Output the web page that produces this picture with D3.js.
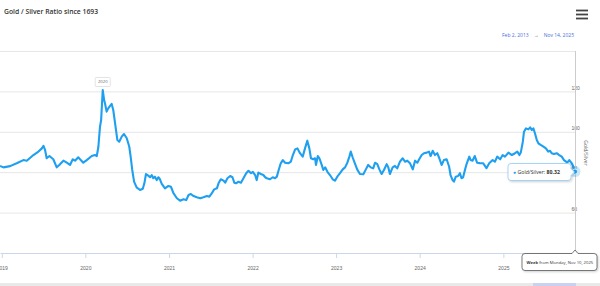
<!DOCTYPE html>
<html>
<head>
<meta charset="utf-8">
<script src="https://cdn.jsdelivr.net/npm/d3@7"></script>
<style>
	body { margin: 0; background: #fff; }
	svg { display: block; font-family: 'Open Sans', 'Noto Sans', sans-serif; }
	.grid line { stroke: #e6e6e6; }
	.grid path { display: none; }
	.x-axis path, .x-axis line { stroke: #ccd6eb; }
	.x-axis text { fill: #666; font-size: 5px; }
	.y-labels text { fill: #666; font-size: 5px; }
	.y-labels path { display: none; }
</style>
</head>
<body>
<div id="chart"></div>
<script>
// weekly gold/silver ratio
var dates = [
	'2018-12-24', '2019-01-08', '2019-02-06', '2019-03-07', '2019-04-05', '2019-04-20', '2019-05-19',
	'2019-06-10', '2019-06-25', '2019-07-02', '2019-07-09', '2019-07-16', '2019-07-28', '2019-08-14',
	'2019-08-29', '2019-09-09', '2019-09-27', '2019-10-12', '2019-10-26', '2019-11-07', '2019-11-17',
	'2019-12-01', '2019-12-12', '2019-12-23', '2020-01-07', '2020-01-29', '2020-02-12', '2020-02-20',
	'2020-02-27', '2020-03-05', '2020-03-10', '2020-03-17', '2020-03-23', '2020-03-27', '2020-04-03',
	'2020-04-10', '2020-04-18', '2020-04-25', '2020-05-02', '2020-05-10', '2020-05-20', '2020-05-28',
	'2020-06-08', '2020-06-18', '2020-06-30', '2020-07-11', '2020-07-17', '2020-07-24', '2020-08-01',
	'2020-08-12', '2020-08-27', '2020-09-08', '2020-09-15', '2020-09-22', '2020-10-02', '2020-10-10',
	'2020-10-17', '2020-10-24', '2020-10-31', '2020-11-08', '2020-11-15', '2020-11-22', '2020-11-30',
	'2020-12-14', '2020-12-29', '2021-01-09', '2021-01-20', '2021-02-04', '2021-02-18', '2021-03-05',
	'2021-03-17', '2021-03-27', '2021-04-06', '2021-04-18', '2021-05-02', '2021-05-17', '2021-05-31',
	'2021-06-15', '2021-06-26', '2021-07-07', '2021-07-17', '2021-07-29', '2021-08-05', '2021-08-15',
	'2021-08-27', '2021-09-03', '2021-09-13', '2021-09-25', '2021-10-05', '2021-10-13', '2021-10-21',
	'2021-10-31', '2021-11-11', '2021-11-22', '2021-12-04', '2021-12-14', '2021-12-25', '2022-01-02',
	'2022-01-12', '2022-01-19', '2022-01-26', '2022-02-06', '2022-02-17', '2022-02-25', '2022-03-04',
	'2022-03-18', '2022-03-30', '2022-04-09', '2022-04-17', '2022-04-24', '2022-05-04', '2022-05-13',
	'2022-05-23', '2022-06-06', '2022-06-17', '2022-06-26', '2022-07-06', '2022-07-16', '2022-07-27',
	'2022-08-08', '2022-08-18', '2022-08-28', '2022-09-06', '2022-09-13', '2022-09-23', '2022-10-01',
	'2022-10-05', '2022-10-13', '2022-10-20', '2022-10-30', '2022-11-06', '2022-11-14', '2022-11-24',
	'2022-12-05', '2022-12-17', '2022-12-27', '2023-01-06', '2023-01-18', '2023-01-30', '2023-02-09',
	'2023-02-19', '2023-02-28', '2023-03-06', '2023-03-14', '2023-03-24', '2023-04-03', '2023-04-15',
	'2023-04-30', '2023-05-11', '2023-05-21', '2023-06-01', '2023-06-12', '2023-06-20', '2023-06-30',
	'2023-07-09', '2023-07-19', '2023-07-29', '2023-08-10', '2023-08-17', '2023-08-24', '2023-09-05',
	'2023-09-15', '2023-09-25', '2023-10-07', '2023-10-19', '2023-10-29', '2023-11-08', '2023-11-20',
	'2023-12-02', '2023-12-12', '2023-12-22', '2023-12-30', '2024-01-10', '2024-01-20', '2024-02-01',
	'2024-02-11', '2024-02-18', '2024-02-27', '2024-03-08', '2024-03-18', '2024-03-27', '2024-04-06',
	'2024-04-16', '2024-04-28', '2024-05-09', '2024-05-15', '2024-05-24', '2024-05-30', '2024-06-07',
	'2024-06-17', '2024-06-25', '2024-07-02', '2024-07-09', '2024-07-17', '2024-07-24', '2024-08-05',
	'2024-08-11', '2024-08-19', '2024-08-29', '2024-09-08', '2024-09-20', '2024-10-05', '2024-10-19',
	'2024-10-31', '2024-11-15', '2024-11-25', '2024-12-05', '2024-12-18', '2024-12-29', '2025-01-08',
	'2025-01-23', '2025-02-07', '2025-02-21', '2025-03-03', '2025-03-12', '2025-03-18', '2025-03-27',
	'2025-04-01', '2025-04-10', '2025-04-20', '2025-04-28', '2025-05-05', '2025-05-12', '2025-05-19',
	'2025-05-27', '2025-06-03', '2025-06-13', '2025-06-25', '2025-07-06', '2025-07-16', '2025-07-24',
	'2025-07-31', '2025-08-10', '2025-08-22', '2025-09-02', '2025-09-13', '2025-09-23', '2025-10-02',
	'2025-10-07', '2025-10-16', '2025-10-27', '2025-11-03', '2025-11-10'
];
var ratios = [
	83.1, 82.4, 83.0, 84.4, 86.0, 85.7, 88.5,
	90.2, 91.8, 93.0, 91.0, 86.9, 88.0, 86.4,
	82.4, 83.6, 85.7, 84.7, 83.6, 86.4, 85.7,
	87.4, 86.0, 84.7, 86.0, 88.0, 88.5, 88.0,
	92.6, 102.5, 105.8, 120.7, 115.7, 114.0, 110.0,
	111.6, 112.8, 113.8, 110.8, 104.2, 95.9, 95.1,
	97.6, 98.9, 96.8, 92.6, 87.7, 81.1, 75.3,
	72.5, 71.2, 71.8, 74.5, 79.1, 78.3, 77.5,
	78.6, 77.0, 77.8, 76.1, 77.5, 76.5, 74.2,
	72.0, 73.2, 72.8, 69.6, 67.1, 65.9, 66.6,
	66.2, 68.7, 69.2, 68.2, 67.6, 67.1, 67.6,
	68.2, 67.9, 69.6, 71.5, 72.0, 74.5, 76.5,
	75.8, 74.8, 77.0, 78.1, 77.5, 74.8, 74.5,
	75.3, 74.8, 77.0, 79.5, 80.7, 79.5, 80.2,
	78.6, 76.1, 79.8, 79.1, 78.6, 77.5, 77.0,
	76.5, 77.5, 77.0, 77.8, 80.7, 84.4, 86.0,
	84.7, 84.4, 85.2, 88.5, 91.3, 91.8, 89.4,
	87.7, 91.8, 95.6, 91.8, 86.9, 86.4, 86.9,
	83.6, 88.0, 86.9, 83.6, 81.1, 82.4, 80.2,
	78.6, 76.5, 75.8, 77.8, 79.5, 81.4, 82.4,
	84.7, 87.7, 90.2, 87.4, 84.4, 81.4, 79.1,
	79.0, 81.4, 83.6, 82.4, 81.9, 84.7, 84.0,
	81.4, 79.1, 81.1, 84.0, 82.4, 79.1, 82.4,
	83.1, 81.9, 85.2, 86.9, 85.2, 85.7, 84.4,
	81.4, 85.7, 84.7, 86.4, 88.5, 89.4, 89.7,
	90.2, 88.0, 90.6, 88.5, 89.4, 86.9, 83.6,
	86.0, 86.4, 82.7, 78.6, 76.1, 75.3, 77.8,
	78.1, 79.5, 77.0, 77.5, 81.1, 84.0, 87.7,
	86.0, 85.7, 88.0, 84.7, 84.5, 84.4, 82.0,
	84.4, 86.0, 85.2, 87.7, 86.4, 88.5, 87.7,
	89.7, 88.5, 89.4, 90.2, 88.5, 89.7, 95.1,
	100.0, 101.7, 101.2, 102.2, 100.9, 101.7, 99.3,
	95.9, 94.3, 93.5, 92.6, 91.8, 90.2, 90.6,
	89.4, 89.0, 89.4, 88.5, 87.7, 86.0, 85.2,
	84.7, 86.0, 84.4, 82.7, 80.32
];
var yTicks = [60, 80, 100, 120];
var titleText = 'Gold / Silver Ratio since 1693';
var rangeFrom = 'Feb 2, 2013';
var rangeTo = 'Nov 14, 2025';
var seriesName = 'Gold/Silver';
var weekLabel = 'Week from Monday, Nov 10, 2025';

var W = 600, H = 286;
var plot = {left: 0, right: 575, top: 51, bottom: 253};
var lineColor = '#1e9ff0';

var parse = d3.timeParse('%Y-%m-%d');
var points = dates.map(function(d, i) {
	return {date: parse(d), value: ratios[i]};
});

var svg = d3.select('#chart').append('svg')
	.attr('width', W)
	.attr('height', H);

var defs = svg.append('defs');
defs.append('clipPath').attr('id', 'plot-clip')
	.append('rect')
	.attr('x', plot.left)
	.attr('y', plot.top)
	.attr('width', plot.right - plot.left + 6)
	.attr('height', plot.bottom - plot.top);
var shadow = defs.append('filter').attr('id', 'shadow')
	.attr('x', '-20%').attr('y', '-40%').attr('width', '140%').attr('height', '190%');
shadow.append('feDropShadow')
	.attr('dx', 1).attr('dy', 1).attr('stdDeviation', 1.2)
	.attr('flood-color', '#000').attr('flood-opacity', 0.2);

var x = d3.scaleTime()
	.domain([parse('2018-12-24'), parse('2025-11-10')])
	.range([plot.left, plot.right]);
var y = d3.scaleLinear()
	.domain([40, 140])
	.range([plot.bottom, plot.top]);

// title + menu
svg.append('text')
	.attr('x', 4)
	.attr('y', 14)
	.attr('font-size', 6.8)
	.attr('font-weight', 600)
	.attr('fill', '#333')
	.text(titleText);
[10.5, 14.5, 18.5].forEach(function(yy) {
	svg.append('line')
		.attr('x1', 576).attr('x2', 588)
		.attr('y1', yy).attr('y2', yy)
		.attr('stroke', '#444')
		.attr('stroke-width', 1.8);
});

// range selector text
var range = svg.append('text')
	.attr('x', 574)
	.attr('y', 37)
	.attr('text-anchor', 'end')
	.attr('font-size', 5)
	.attr('fill', '#4b6fdc');
range.append('tspan').text(rangeFrom);
range.append('tspan').attr('dx', 5).attr('fill', '#666').text('\u2192');
range.append('tspan').attr('dx', 5).text(rangeTo);

// grid
svg.append('g')
	.attr('class', 'grid')
	.attr('transform', 'translate(' + plot.right + ',0)')
	.call(d3.axisLeft(y).tickValues(yTicks.concat([140])).tickSize(plot.right - plot.left).tickFormat(''));

// y labels on the right
var yLab = svg.append('g')
	.attr('class', 'y-labels')
	.attr('transform', 'translate(571.5,0)')
	.call(d3.axisRight(y).tickValues(yTicks).tickSize(0).tickPadding(0));
yLab.selectAll('text').attr('dy', '-0.45em');

svg.append('text')
	.attr('transform', 'translate(584,153) rotate(90)')
	.attr('text-anchor', 'middle')
	.attr('font-size', 5)
	.attr('fill', '#666')
	.text(seriesName);

// x axis
svg.append('g')
	.attr('class', 'x-axis')
	.attr('transform', 'translate(0,' + plot.bottom + ')')
	.call(d3.axisBottom(x).ticks(d3.timeYear.every(1)).tickFormat(d3.timeFormat('%Y')).tickSize(5).tickSizeOuter(0).tickPadding(8));

// crosshair
svg.append('line')
	.attr('x1', x(points[points.length - 1].date) + 0.5)
	.attr('x2', x(points[points.length - 1].date) + 0.5)
	.attr('y1', plot.top)
	.attr('y2', plot.bottom)
	.attr('stroke', '#ccc')
	.attr('stroke-width', 1);

// the series
var line = d3.line()
	.x(function(d) { return x(d.date); })
	.y(function(d) { return y(d.value); });
svg.append('path')
	.datum(points)
	.attr('clip-path', 'url(#plot-clip)')
	.attr('fill', 'none')
	.attr('stroke', lineColor)
	.attr('stroke-width', 2.1)
	.attr('stroke-linejoin', 'round')
	.attr('d', line);

// flag at the 2020 peak
var peak = points.reduce(function(a, b) { return b.value > a.value ? b : a; });
var flag = svg.append('g')
	.attr('transform', 'translate(' + x(peak.date) + ',' + (y(peak.value) - 3.5) + ')');
flag.append('rect')
	.attr('x', -7.5).attr('y', -9)
	.attr('width', 15).attr('height', 9)
	.attr('rx', 0.8)
	.attr('fill', '#fff')
	.attr('stroke', '#ddd')
	.attr('stroke-width', 0.8);
flag.append('text')
	.attr('y', -3)
	.attr('text-anchor', 'middle')
	.attr('font-size', 4.2)
	.attr('fill', '#666')
	.text(peak.date.getFullYear());

// hovered point + tooltip
var last = points[points.length - 1];
var px = x(last.date), py = y(last.value);
svg.append('circle')
	.attr('cx', px).attr('cy', py).attr('r', 5.5)
	.attr('fill', lineColor).attr('fill-opacity', 0.25);
svg.append('circle')
	.attr('cx', px).attr('cy', py).attr('r', 2.6)
	.attr('fill', lineColor).attr('stroke', '#fff').attr('stroke-width', 0.8);

var tip = svg.append('g').attr('filter', 'url(#shadow)');
tip.append('path')
	.attr('d', 'M' + 511 + ',' + 163.5 + 'h57 a3,3 0 0 1 3,3 v2 l3.5,3.5 l-3.5,3.5 v2 a3,3 0 0 1 -3,3 h-57 a3,3 0 0 1 -3,-3 v-11 a3,3 0 0 1 3,-3z')
	.attr('fill', 'rgba(255,255,255,0.96)')
	.attr('stroke', '#8fcaf5')
	.attr('stroke-width', 0.8);
var tipText = svg.append('text')
	.attr('x', 513)
	.attr('y', 173.8)
	.attr('font-size', 5.2)
	.attr('fill', '#333');
tipText.append('tspan').attr('fill', lineColor).text('\u25CF ');
tipText.append('tspan').text(seriesName + ': ');
tipText.append('tspan').attr('font-weight', 700).text(last.value.toFixed(2));

// crosshair label on x axis
var wk = svg.append('g').attr('filter', 'url(#shadow)');
wk.append('path')
	.attr('d', 'M525,253.5 h47 l3,-3.5 l3,3.5 h16 a3,3 0 0 1 3,3 v11 a3,3 0 0 1 -3,3 h-69 a3,3 0 0 1 -3,-3 v-11 a3,3 0 0 1 3,-3z')
	.attr('fill', '#fff')
	.attr('stroke', '#444')
	.attr('stroke-width', 0.7);
var wkText = svg.append('text')
	.attr('x', 526.5)
	.attr('y', 263.5)
	.attr('font-size', 4.2)
	.attr('fill', '#333');
wkText.append('tspan').attr('font-weight', 700).text(weekLabel.split(' ')[0] + ' ');
wkText.append('tspan').text(weekLabel.split(' ').slice(1).join(' '));

// navigator strip at the bottom
svg.append('rect')
	.attr('x', 0).attr('y', 283)
	.attr('width', W).attr('height', 3)
	.attr('fill', '#e9e9e9');
svg.append('rect')
	.attr('x', 533).attr('y', 283)
	.attr('width', 43).attr('height', 3)
	.attr('fill', '#c9d3f0');
</script>
</body>
</html>
